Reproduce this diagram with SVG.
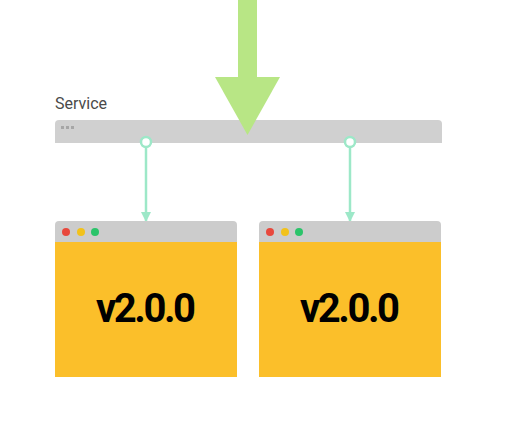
<svg xmlns="http://www.w3.org/2000/svg" width="509" height="422" viewBox="0 0 509 422">
<style>
.bar{fill:#d0d0d0}
.title{fill:#cccccc}
.body{fill:#fbbf2a}
.ver{font-family:Roboto,"Liberation Sans",sans-serif;font-weight:bold;font-size:40px;fill:#000;text-anchor:middle}
.lbl{font-family:Roboto,"Liberation Sans",sans-serif;font-size:16px;fill:#4a4a4a}
.conn{stroke:#9de8c8;stroke-width:2.5;fill:none}
.port{stroke:#9de8c8;stroke-width:2.5;fill:#fff}
</style>
<defs>
<marker id="ah" viewBox="0 0 10 10" refX="10" refY="5" markerWidth="4" markerHeight="4" markerUnits="strokeWidth" orient="auto">
<path d="M0,0 L10,5 L0,10 z" fill="#9de8c8"/>
</marker>
</defs>
<g id="service">
<text class="lbl" x="55" y="109">Service</text>
<path class="bar" d="M55,143 V124 Q55,120 59,120 H438 Q442,120 442,124 V143 Z"/>
<rect x="61" y="126" width="3" height="3" fill="#a6a6a6"/>
<rect x="66" y="126" width="3" height="3" fill="#a6a6a6"/>
<rect x="71" y="126" width="3" height="3" fill="#a6a6a6"/>
</g>
<g id="traffic-arrow">
<rect x="238" y="0" width="19" height="78" fill="#b8e685"/>
<polygon points="215,77 280,77 247.5,135" fill="#b8e685"/>
</g>
<g id="connectors">
<line class="conn" x1="146" y1="147" x2="146" y2="222" marker-end="url(#ah)"/>
<line class="conn" x1="350" y1="147" x2="350" y2="222" marker-end="url(#ah)"/>
<circle class="port" cx="146" cy="142" r="5"/>
<circle class="port" cx="350" cy="142" r="5"/>
</g>
<g id="pod1">
<path class="title" d="M55,242 V225 Q55,221 59,221 H233 Q237,221 237,225 V242 Z"/>
<rect class="body" x="55" y="242" width="182" height="135"/>
<circle cx="66" cy="232" r="4" fill="#e8483c"/>
<circle cx="81" cy="232" r="4" fill="#f2c21b"/>
<circle cx="95" cy="232" r="4" fill="#2bc46a"/>
<text class="ver" x="146" y="322" textLength="100" lengthAdjust="spacing">v2.0.0</text>
</g>
<g id="pod2">
<path class="title" d="M259,242 V225 Q259,221 263,221 H437 Q441,221 441,225 V242 Z"/>
<rect class="body" x="259" y="242" width="182" height="135"/>
<circle cx="270" cy="232" r="4" fill="#e8483c"/>
<circle cx="285" cy="232" r="4" fill="#f2c21b"/>
<circle cx="299" cy="232" r="4" fill="#2bc46a"/>
<text class="ver" x="350" y="322" textLength="100" lengthAdjust="spacing">v2.0.0</text>
</g>
</svg>
